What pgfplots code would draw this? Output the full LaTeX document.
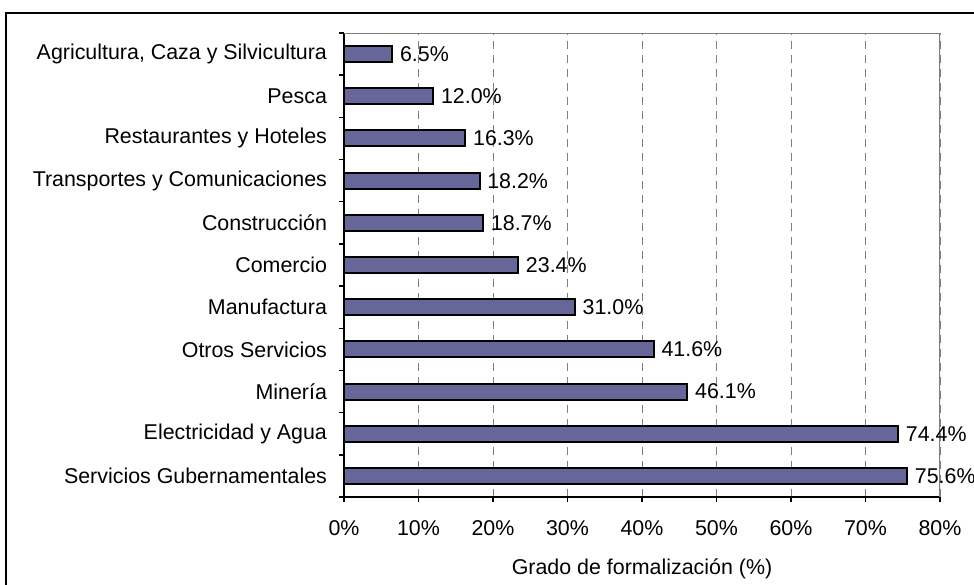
\documentclass[border=0pt]{standalone}
\usepackage{pgfplots}
\pgfplotsset{compat=1.18}
\usepackage{fontspec}
\setmainfont{Liberation Sans}
\definecolor{barfill}{RGB}{102,102,153}
\definecolor{gridgray}{RGB}{128,128,128}
\newcommand\fsize{\fontsize{10.7}{12}\selectfont}
\begin{document}
\begin{tikzpicture}
\useasboundingbox (0,0) rectangle (487pt,-292pt);
% marco exterior (cortado a la derecha y abajo)
\draw[line width=1pt] (3pt,-6.5pt) rectangle (495pt,-300pt);
\begin{axis}[
  at={(172pt,-248.5pt)}, anchor=south west,
  scale only axis, width=298pt, height=232pt,
  xbar, bar width=8pt,
  xmin=0, xmax=80, ymin=-0.5, ymax=10.5,
  axis x line*=bottom, axis y line*=left,
  axis line style={black, line width=0.75pt},
  xtick={0,10,...,80},
  xticklabels={0\%,10\%,20\%,30\%,40\%,50\%,60\%,70\%,80\%},
  ytick={0,...,10},
  yticklabels={Servicios Gubernamentales, Electricidad y Agua, Minería, Otros Servicios, Manufactura, Comercio, Construcción, Transportes y Comunicaciones, Restaurantes y Hoteles, Pesca, {Agricultura, Caza y Silvicultura}},
  minor ytick={-0.5,0.5,...,10.5},
  tick align=outside, major tick length=2.5pt, minor tick length=2.5pt,
  tick style={black, line width=0.75pt},
  major y tick style={draw=none},
  xmajorgrids,
  grid style={gridgray, dash pattern=on 4pt off 3pt, line width=0.5pt},
  /pgf/number format/assume math mode=true,
  tick label style={font=\fsize},
  xticklabel style={yshift=-5.5pt},
  yticklabel style={xshift=-2.5pt},
  xlabel={Grado de formalización (\%)},
  xlabel style={font=\fsize, yshift=-5pt},
  point meta=x,
  nodes near coords={\pgfmathprintnumber[fixed,fixed zerofill,precision=1]{\pgfplotspointmeta}\%},
  nodes near coords style={font=\fsize, black},
]
\addplot[fill=barfill, draw=black, line width=1pt] coordinates {
  (75.6,0) (74.4,1) (46.1,2) (41.6,3) (31.0,4) (23.4,5)
  (18.7,6) (18.2,7) (16.3,8) (12.0,9) (6.5,10)
};
\draw[gridgray, line width=0.75pt] (rel axis cs:0,1) -- (rel axis cs:1,1) -- (rel axis cs:1,0);
\end{axis}
\end{tikzpicture}
\end{document}
